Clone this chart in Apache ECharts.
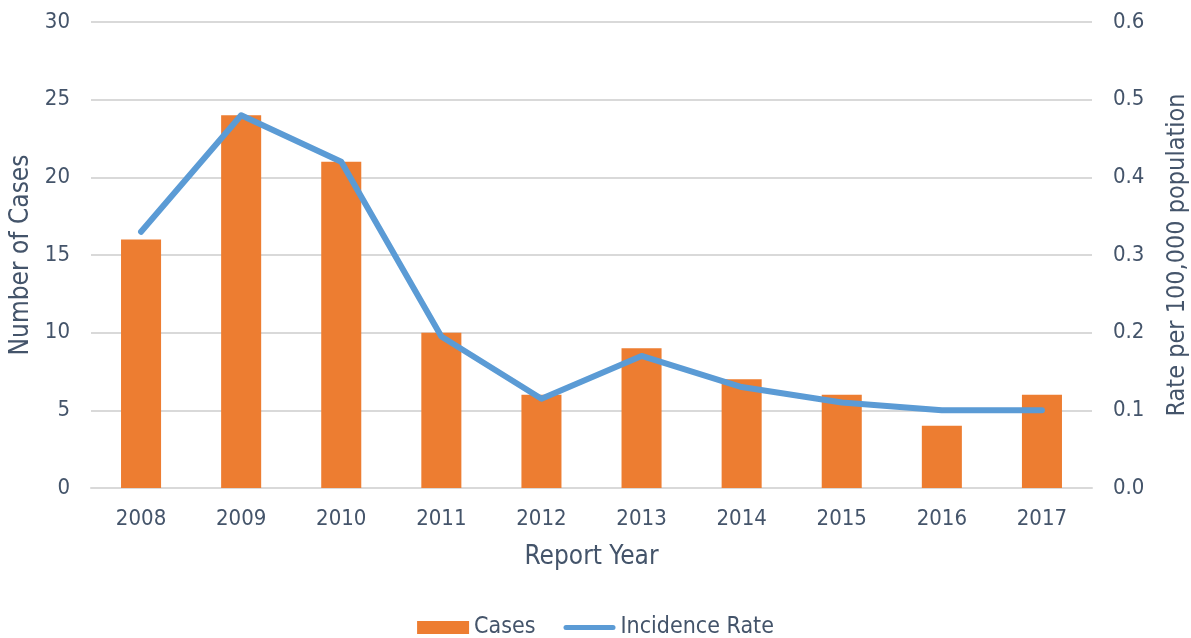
<!DOCTYPE html>
<html>
<head>
<meta charset="utf-8">
<script src="https://cdn.jsdelivr.net/npm/echarts@6/dist/echarts.min.js"></script>
<style>html,body{margin:0;padding:0;background:#fff}#c{width:1191px;height:638px}</style>
</head>
<body>
<div id="c"></div>
<script>
const years = ['2008','2009','2010','2011','2012','2013','2014','2015','2016','2017'];
const cases = [16, 24, 21, 10, 6, 9, 7, 6, 4, 6];
const incidenceRate = [0.33, 0.48, 0.42, 0.195, 0.115, 0.17, 0.13, 0.11, 0.10, 0.10];
const leftTicks = {min: 0, max: 30, interval: 5};
const rightTicks = {min: 0, max: 0.6, interval: 0.1};

const txt = '#44546A';
const font = '"DejaVu Sans Condensed", "DejaVu Sans", sans-serif';
const chart = echarts.init(document.getElementById('c'), null, {renderer: 'canvas'});
chart.setOption({
  animation: false,
  textStyle: {fontFamily: font, color: txt},
  grid: {left: 91, right: 99, top: 22, bottom: 150, outerBoundsMode: 'none', containLabel: false},
  legend: {
    top: 611, left: 'center',
    itemGap: 28, itemWidth: 52, itemHeight: 13,
    textStyle: {fontSize: 23, color: txt, fontFamily: font},
    data: [
      {name: 'Cases', icon: 'rect'},
      {name: 'Incidence Rate', icon: 'path://M2.5,0 L49.5,0 A2.5,2.5 0 0 1 49.5,5 L2.5,5 A2.5,2.5 0 0 1 2.5,0 Z'}
    ]
  },
  xAxis: {
    type: 'category', data: years,
    name: 'Report Year', nameLocation: 'middle', nameGap: 56,
    nameTextStyle: {fontSize: 26, color: txt, fontFamily: font},
    axisLine: {lineStyle: {color: '#D9D9D9', width: 2}},
    axisTick: {show: false},
    axisLabel: {fontSize: 22, color: txt, margin: 20, fontFamily: font}
  },
  yAxis: [{
    type: 'value', min: leftTicks.min, max: leftTicks.max, interval: leftTicks.interval,
    name: 'Number of Cases', nameLocation: 'middle', nameGap: 56,
    nameTextStyle: {fontSize: 26, color: txt, fontFamily: font},
    axisLine: {show: false}, axisTick: {show: false},
    axisLabel: {fontSize: 22, color: txt, margin: 21, fontFamily: font},
    splitLine: {lineStyle: {color: '#D9D9D9', width: 2}}
  }, {
    type: 'value', min: rightTicks.min, max: rightTicks.max, interval: rightTicks.interval,
    name: 'Rate per 100,000 population', nameLocation: 'middle', nameGap: 73,
    nameTextStyle: {fontSize: 25, color: txt, fontFamily: font},
    axisLine: {show: false}, axisTick: {show: false},
    axisLabel: {fontSize: 22, color: txt, margin: 21, fontFamily: font, formatter: v => v.toFixed(1)},
    splitLine: {show: false}
  }],
  series: [{
    name: 'Cases', type: 'bar', data: cases, yAxisIndex: 0,
    barWidth: '40%',
    itemStyle: {color: '#ED7D31'}
  }, {
    name: 'Incidence Rate', type: 'line', data: incidenceRate, yAxisIndex: 1,
    symbol: 'none', showSymbol: false,
    lineStyle: {color: '#5B9BD5', width: 6, cap: 'round', join: 'round'},
    itemStyle: {color: '#5B9BD5'}
  }]
});
</script>
</body>
</html>
